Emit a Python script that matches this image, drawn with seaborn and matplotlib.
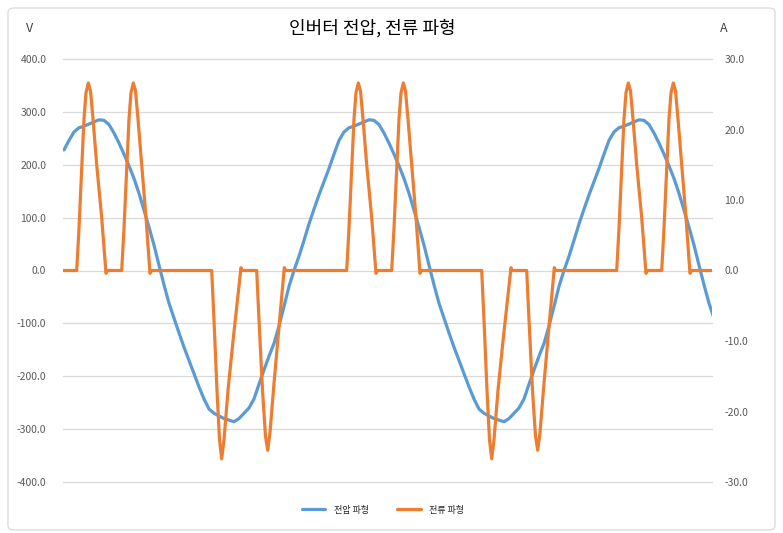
import numpy as np
import pandas as pd
import matplotlib
matplotlib.use("Agg")
import matplotlib.pyplot as plt
import seaborn as sns
from matplotlib.patches import FancyBboxPatch
from matplotlib.lines import Line2D

# ---------------- data ----------------
title = "인버터 전압, 전류 파형"
volt_name = "전압 파형"
curr_name = "전류 파형"
left_unit = "V"
right_unit = "A"
volt_ticks = [-400, -300, -200, -100, 0, 100, 200, 300, 400]
curr_ticks = [-30, -20, -10, 0, 10, 20, 30]

# voltage samples (V), one sample every 5 time units
volt_values = [
    228, 246, 262, 270, 273, 277, 281, 285, 284, 276, 260, 241, 220, 198, 174, 146, 114, 82, 48,
    10, -27, -62, -90, -118, -145, -170, -195, -220, -243, -262, -270, -275, -280, -283, -286,
    -280, -270, -260, -243, -215, -188, -162, -138, -105, -68, -30,
    0, 27, 57, 88, 116, 143, 168, 193, 220, 246, 262, 270, 273, 277, 281, 285, 284, 276, 260,
    241, 220, 198, 174, 146, 114, 82, 48,
    10, -27, -62, -90, -118, -145, -170, -195, -220, -243, -262, -270, -275, -280, -283, -286,
    -280, -270, -260, -243, -215, -188, -162, -138, -105, -68, -30,
    0, 27, 57, 88, 116, 143, 168, 193, 220, 246, 262, 270, 273, 277, 281, 285, 284, 276, 260,
    241, 220, 198, 174, 146, 114, 82, 48,
    10, -27, -62, -90,
]
volt_step = 5
volt_start = 1

# current waveform (A) read at its break points
curr_t = [
    0, 13.7, 16, 18.7, 21, 23, 25.3, 27.5, 30, 33.7, 38.7, 43, 44.5,
    58.7, 61, 63.7, 66, 68, 70.3, 72.5, 75, 78.7, 83, 87, 88.5,
    148.7, 151, 154, 156.5, 158.7, 161, 165, 170, 178, 179,
    193.7, 196, 199.5, 202.5, 204.7, 207, 211, 216, 221.3, 222.5,
    283.7, 286, 288.7, 291, 293, 295.3, 297.5, 300, 303.7, 308.7, 313, 314.5,
    328.7, 331, 333.7, 336, 338, 340.3, 342.5, 345, 348.7, 353, 357, 358.5,
    418.7, 421, 424, 426.5, 428.7, 431, 435, 440, 448, 449,
    463.7, 466, 469.5, 472.5, 474.7, 477, 481, 486, 491.3, 492.5,
    553.7, 556, 558.7, 561, 563, 565.3, 567.5, 570, 573.7, 578.7, 583, 584.5,
    598.7, 601, 603.7, 606, 608, 610.3, 612.5, 615, 618.7, 623, 627, 628.5,
    650,
]
curr_a = [
    0, 0, 6, 14.4, 21.5, 25.2, 26.6, 25.5, 21.5, 15, 7.5, -0.4, 0,
    0, 6, 14.4, 21.5, 25.2, 26.6, 25.5, 21.5, 15, 7.5, -0.4, 0,
    0, -7, -17, -24, -26.7, -24, -17, -10, 0.4, 0,
    0, -7, -17, -23.5, -25.5, -23, -16, -8, 0.4, 0,
    0, 6, 14.4, 21.5, 25.2, 26.6, 25.5, 21.5, 15, 7.5, -0.4, 0,
    0, 6, 14.4, 21.5, 25.2, 26.6, 25.5, 21.5, 15, 7.5, -0.4, 0,
    0, -7, -17, -24, -26.7, -24, -17, -10, 0.4, 0,
    0, -7, -17, -23.5, -25.5, -23, -16, -8, 0.4, 0,
    0, 6, 14.4, 21.5, 25.2, 26.6, 25.5, 21.5, 15, 7.5, -0.4, 0,
    0, 6, 14.4, 21.5, 25.2, 26.6, 25.5, 21.5, 15, 7.5, -0.4, 0,
    0,
]

# ---------------- style ----------------
BLUE = "#5B9BD5"
ORANGE = "#ED7D31"
TICK_COLOR = "#595959"
GRID_COLOR = "#D9D9D9"

sns.set_theme(style="white")
plt.rcParams['font.family'] = ['Noto Sans CJK KR', 'DejaVu Sans']

W, H = 783, 533
fig = plt.figure(figsize=(W / 100, H / 100), dpi=100)
x0, x1, ytop, ybot = 63, 712, 59, 482
ax = fig.add_axes([x0 / W, 1 - ybot / H, (x1 - x0) / W, (ybot - ytop) / H])
ax2 = ax.twinx()

vdf = pd.DataFrame({"t": np.arange(len(volt_values)) * volt_step + volt_start,
                    "v": volt_values})
cdf = pd.DataFrame({"t": curr_t, "a": curr_a})

sns.lineplot(data=vdf, x="t", y="v", ax=ax, color=BLUE, linewidth=2.3, sort=False)
sns.lineplot(data=cdf, x="t", y="a", ax=ax2, color=ORANGE, linewidth=2.3, sort=False)

ax.set_xlim(0, x1 - x0)
ax.set_ylim(-400, 400)
ax2.set_ylim(-30, 30)
ax.set_yticks(volt_ticks)
ax2.set_yticks(curr_ticks)
ax.set_yticklabels([f"{v:.1f}" for v in volt_ticks])
ax2.set_yticklabels([f"{v:.1f}" for v in curr_ticks])
ax.set_xticks([])
for a in (ax, ax2):
    a.set_xlabel("")
    a.set_ylabel("")
    for s in a.spines.values():
        s.set_visible(False)
ax.tick_params(axis="y", length=0, pad=12, labelsize=7.5, labelcolor=TICK_COLOR)
ax2.tick_params(axis="y", length=0, pad=9, labelsize=7.5, labelcolor=TICK_COLOR)
ax.yaxis.grid(True, color=GRID_COLOR, linewidth=0.9)
ax.xaxis.grid(False)
ax.set_axisbelow(True)
for gl in ax.get_ygridlines():
    gl.set_clip_on(False)

fig.text(372 / W, 1 - 28 / H, title, ha="center", va="center", fontsize=13, color="black")
fig.text(30 / W, 1 - 28 / H, left_unit, ha="center", va="center", fontsize=9, color="#404040")
fig.text(724 / W, 1 - 28 / H, right_unit, ha="center", va="center", fontsize=9, color="#404040")

handles = [Line2D([0], [0], color=BLUE, lw=2.3), Line2D([0], [0], color=ORANGE, lw=2.3)]
fig.legend(handles, [volt_name, curr_name], loc="center", bbox_to_anchor=(383 / W, 1 - 510 / H),
           ncol=2, frameon=False, fontsize=6.5, handlelength=2.6, columnspacing=3.2,
           handletextpad=0.9)

border = FancyBboxPatch((8 / W, 3 / H), (775 - 8) / W, (530 - 8) / H,
                        boxstyle="round,pad=0,rounding_size=0.008",
                        transform=fig.transFigure, fill=False,
                        edgecolor=GRID_COLOR, linewidth=0.9)
fig.patches.append(border)

fig.savefig("out.png", dpi=100)
